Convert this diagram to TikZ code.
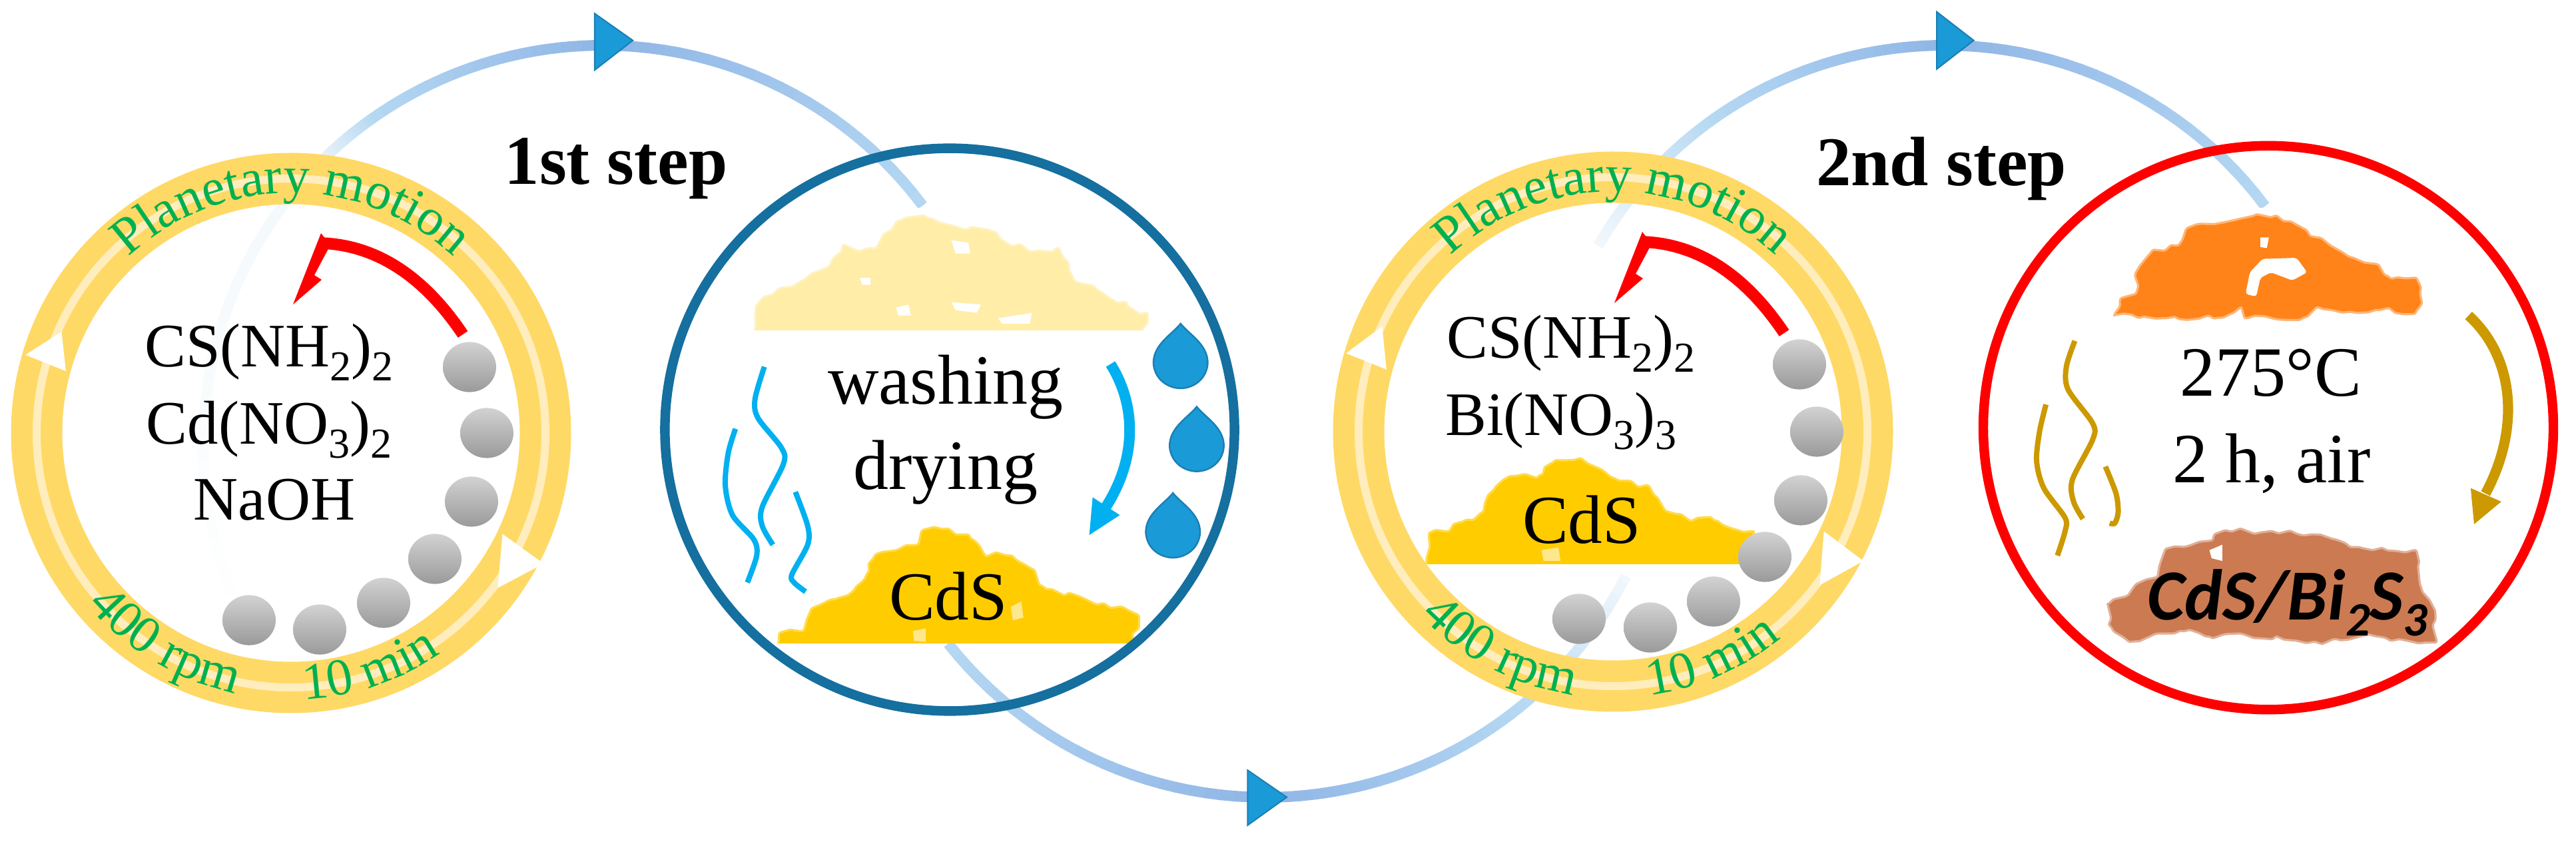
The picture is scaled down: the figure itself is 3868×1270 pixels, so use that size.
\documentclass[tikz,border=0pt]{standalone}
\usepackage{fontspec}
\setmainfont{Liberation Serif}
\newfontfamily\calib{Carlito}
\usetikzlibrary{decorations.text,decorations.pathmorphing}
\pgfmathsetseed{7}
\definecolor{ringy}{HTML}{FFD966}
\definecolor{ringp}{HTML}{FFEDBD}
\definecolor{grn}{HTML}{00B050}
\definecolor{arcmid}{HTML}{8FB5E6}
\definecolor{arcend}{HTML}{B5D8F2}
\definecolor{arcfaint}{HTML}{F2F8FC}
\definecolor{cyanx}{HTML}{00B0F0}
\definecolor{gold}{HTML}{CC9900}
\definecolor{dropf}{HTML}{1A9AD6}
\definecolor{dropd}{HTML}{1A7FB5}
\definecolor{circb}{HTML}{156F9F}
\definecolor{paley}{HTML}{FFEDA8}
\definecolor{cdsy}{HTML}{FFCC00}
\definecolor{orng}{HTML}{FF8319}
\definecolor{brwn}{HTML}{CC7A52}
\newcommand\lowx[2][16]{\raisebox{-0.22em}{\fontsize{#1}{#1}\selectfont #2}}
\newcommand\gradarc[7]{%
  \foreach \i in {1,...,24}{%
    \pgfmathsetmacro\aa{#4+(#5-#4)*(\i-1)/24}%
    \pgfmathsetmacro\ab{#4+(#5-#4)*(\i+0.1)/24}%
    \pgfmathsetmacro\pct{(\i-0.5)/24*100}%
    \colorlet{segc}{#7!\pct!#6}%
    \draw[segc,line width=4pt] ({#1+#3*cos(\aa)},{#2-#3*sin(\aa)}) -- ({#1+#3*cos(\ab)},{#2-#3*sin(\ab)});
  }}
\newcommand\droplet[2]{%
  \begin{scope}[shift={(#1,#2)}]
    \draw[fill=dropf,draw=dropd,line width=0.6pt] (0,-68) .. controls (20,-48) and (64,-30) .. (64,5) .. controls (62,35) and (30,52) .. (0,52) .. controls (-30,52) and (-62,35) .. (-64,5) .. controls (-64,-30) and (-20,-48) .. (0,-68) -- cycle;
  \end{scope}}
\newcommand\ringbase[2]{%
  \draw[ringy,line width=19.25pt] (#1,#2) circle[radius=95.5pt];
  \draw[ringp,line width=3pt] (#1,#2) circle[radius=95.5pt];}
\newcommand\ball[2]{%
  \shade[top color=ballt,middle color=ballm,bottom color=ballb] (#1,#2) ellipse[x radius=10pt,y radius=9.4pt];}
% centre x, centre y, radius px, start angle, end angle, text, size
\newcommand\arctext[7]{%
  \pgfmathsetmacro\rpt{#3*0.25}%
  \path[decorate,decoration={text along path,text align=center,text={|\fontsize{#7}{#7}\selectfont\color{grn}|#6}}]
    ({#1+#3*cos(#4)},{#2-#3*sin(#4)}) arc[start angle=#4,end angle=#5,radius=\rpt pt];}
\definecolor{ballt}{HTML}{D2D2D2}
\definecolor{ballm}{HTML}{F2F2F2}
\definecolor{ballb}{HTML}{9A9A9A}
\tikzset{
  zoomA/.style={x=0.15944pt,y=-0.20243pt},
  zoomB/.style={shift={(950,0)},x=0.15944pt,y=-0.20243pt},
  zoomC/.style={shift={(1900,0)},x=0.15944pt,y=-0.20243pt},
  zoomD/.style={shift={(2868,0)},x=0.15944pt,y=-0.20243pt},
  chem/.style={anchor=base,font=\fontsize{23.2}{23.2}\selectfont,inner sep=0pt},
  big/.style={anchor=base,font=\fontsize{26.5}{26.5}\selectfont,inner sep=0pt},
  stepttl/.style={anchor=base,font=\fontsize{26.2}{26.2}\selectfont\bfseries,inner sep=0pt},
  squig/.style={line width=2pt},
  tri/.style={fill=#1,draw=dropd,line width=0.5pt},
  rock/.style={line width=0.8pt,line join=round,rounded corners=0.6pt,decorate,decoration={random steps,segment length=3.2pt,amplitude=1.3pt}}
}
\begin{document}
\begin{tikzpicture}[x=0.25pt,y=-0.25pt]
\useasboundingbox[fill=white] (0,0) rectangle (3868,1270);

% large process arcs
\gradarc{905}{668}{600}{36.8}{90}{arcend}{arcmid}
\gradarc{905}{668}{600}{90}{125}{arcmid}{arcend}
\gradarc{905}{668}{600}{125}{136}{arcend}{arcfaint}
\gradarc{905}{668}{600}{136}{205}{arcfaint}{white}
\gradarc{1900}{590}{607}{218.3}{270}{arcend}{arcmid}
\gradarc{1900}{590}{607}{270}{309}{arcmid}{arcend}
\gradarc{1900}{590}{607}{309}{333}{arcend}{arcfaint}
\gradarc{2920}{668}{600}{36.7}{90}{arcend}{arcmid}
\gradarc{2920}{668}{600}{90}{125}{arcmid}{arcend}
\gradarc{2920}{668}{600}{125}{150}{arcend}{arcfaint}
\fill[white] (1340,312) rectangle (1440,330);
\fill[white] (3350,312) rectangle (3450,330);

% rings
\ringbase{437}{650}
\ringbase{2422}{648}
\begin{scope}[zoomA]
  \fill[white] (60,658) -- (145,615) -- (155,688) -- cycle;
  \fill[white] (1183,990) -- (1280,1045) -- (1172,1090) -- cycle;
\end{scope}
\begin{scope}[zoomC]
  \fill[white] (190,655) -- (275,605) -- (285,685) -- cycle;
  \fill[white] (1315,985) -- (1408,1040) -- (1305,1085) -- cycle;
\end{scope}
\arctext{437}{650}{360}{132}{48}{Planetary motion}{19.6}
\arctext{437}{650}{400}{218}{260}{400 rpm}{19.6}
\arctext{437}{650}{400}{271}{306}{10 min}{19.6}
\arctext{2422}{648}{360}{132}{48}{Planetary motion}{19.6}
\arctext{2422}{648}{400}{222}{263}{400 rpm}{19.6}
\arctext{2422}{648}{400}{276}{311}{10 min}{19.6}

% powders in first wash circle
\begin{scope}[zoomB]
  \begin{scope}
    \clip (250,380) rectangle (1250,612);
    \draw[rock,fill=paley,draw=paley!70] (283,640) -- (290,570) -- (330,545) -- (400,520) -- (460,495) -- (495,455) -- (530,465) -- (570,460) -- (610,425) -- (640,405) -- (700,405) -- (760,420) -- (830,425) -- (890,455) -- (960,465) -- (1000,460) -- (1040,520) -- (1100,540) -- (1170,570) -- (1210,580) -- (1205,640) -- cycle;
    \fill[white] (750,445) -- (790,450) -- (795,470) -- (760,470) -- cycle;
    \fill[white] (750,560) -- (820,565) -- (810,580) -- (760,575) -- cycle;
    \fill[white] (860,590) -- (940,580) -- (935,600) -- (870,600) -- cycle;
    \fill[white] (620,570) -- (650,565) -- (655,585) -- (625,585) -- cycle;
    \fill[white] (535,515) -- (560,515) -- (560,528) -- (540,528) -- cycle;
  \end{scope}
  \begin{scope}
    \clip (300,960) rectangle (1250,1192);
    \draw[rock,fill=cdsy,draw=cdsy!70] (335,1230) -- (345,1175) -- (400,1170) -- (420,1130) -- (480,1110) -- (530,1085) -- (555,1060) -- (570,1030) -- (620,1020) -- (670,1010) -- (680,985) -- (740,980) -- (800,1000) -- (830,1030) -- (890,1030) -- (930,1050) -- (970,1090) -- (1030,1100) -- (1090,1120) -- (1150,1125) -- (1190,1140) -- (1175,1230) -- cycle;
    \fill[cdsy!45] (890,1125) -- (915,1115) -- (920,1145) -- (895,1150) -- cycle;
    \fill[cdsy!45] (660,1170) -- (690,1165) -- (690,1190) -- (662,1188) -- cycle;
  \end{scope}
  \draw[cyanx,squig] plot[smooth] coordinates {(310,680) (288,740) (295,775) (350,830) (355,860) (305,940) (305,975) (330,1010)};
  \draw[cyanx,squig] plot[smooth] coordinates {(242,795) (225,840) (218,900) (235,955) (285,1000) (292,1030) (270,1080)};
  \draw[cyanx,squig] plot[smooth] coordinates {(383,912) (412,975) (412,1010) (375,1065) (380,1080) (407,1097)};
  \draw[cyanx,line width=4pt] (1125,675) .. controls (1185,750) and (1190,850) .. (1110,945);
  \fill[cyanx] (1075,992) -- (1083,922) -- (1147,955) -- cycle;
  \droplet{1290}{668}
  \droplet{1328}{822}
  \droplet{1272}{982}
\end{scope}
\draw[circb,line width=3.6pt] (1426,645) ellipse[x radius=106.9pt,y radius=105.6pt];

% ring two powder
\begin{scope}[zoomC]
  \begin{scope}
    \clip (340,820) rectangle (1200,1045);
    \draw[rock,fill=cdsy,draw=cdsy!70] (372,1080) -- (385,990) -- (430,985) -- (470,965) -- (510,950) -- (540,905) -- (570,885) -- (650,880) -- (680,855) -- (740,850) -- (790,870) -- (830,890) -- (900,900) -- (940,945) -- (1000,965) -- (1060,965) -- (1120,985) -- (1150,985) -- (1120,1080) -- cycle;
    \fill[cdsy!45] (650,1020) -- (690,1015) -- (695,1040) -- (655,1040) -- cycle;
  \end{scope}
\end{scope}

% balls
\ball{705}{551}\ball{731}{650}\ball{708}{753}\ball{653}{839}\ball{576}{905}\ball{480}{945}\ball{374}{931}
\ball{2702}{547}\ball{2728}{648}\ball{2704}{751}\ball{2650}{836}\ball{2573}{903}\ball{2478}{942}\ball{2371}{929}

% red arrows
\draw[red,line width=4.4pt] (695,502) .. controls (640,420) and (570,368) .. (482,365);
\fill[red] (440,457) -- (482,350) -- (496,368) -- (472,413) -- (483,420) -- cycle;
\draw[red,line width=4.4pt] (2679,500) .. controls (2624,418) and (2554,366) .. (2466,363);
\fill[red] (2424,455) -- (2466,348) -- (2480,366) -- (2456,411) -- (2467,418) -- cycle;

% red circle contents
\begin{scope}[zoomD]
  \draw[rock,fill=orng,draw=orng!60] (480,585) -- (495,555) -- (530,545) -- (530,510) -- (570,465) -- (630,455) -- (650,425) -- (720,415) -- (780,405) -- (860,400) -- (930,425) -- (990,455) -- (1050,480) -- (1100,490) -- (1130,515) -- (1190,515) -- (1205,560) -- (1190,580) -- (1100,575) -- (1060,580) -- (960,570) -- (920,592) -- (790,590) -- (780,570) -- (720,590) -- (600,590) -- cycle;
  \fill[white,rounded corners=1pt] (800,505) -- (830,480) -- (910,478) -- (935,505) -- (900,520) -- (850,505) -- (825,515) -- (815,550) -- (790,545) -- cycle;
  \fill[white] (825,440) -- (845,440) -- (840,460) -- (825,458) -- cycle;
  \draw[rock,fill=brwn,draw=brwn!60] (465,1120) -- (510,1105) -- (530,1085) -- (580,1070) -- (600,1020) -- (680,1005) -- (760,985) -- (850,985) -- (1000,1000) -- (1060,1015) -- (1190,1020) -- (1200,1080) -- (1235,1130) -- (1240,1190) -- (1100,1180) -- (1000,1185) -- (950,1190) -- (850,1185) -- (780,1175) -- (700,1180) -- (640,1170) -- (520,1190) -- (470,1160) -- cycle;
  \fill[white] (705,1020) -- (735,1010) -- (735,1040) -- (710,1035) -- cycle;
  \draw[gold,squig] plot[smooth] coordinates {(388,632) (368,680) (372,722) (430,785) (430,815) (382,890) (385,930) (407,962)};
  \draw[gold,squig] plot[smooth] coordinates {(320,750) (305,800) (298,855) (315,905) (365,960) (365,985) (347,1030)};
  \draw[gold,squig] plot[smooth] coordinates {(460,865) (485,915) (490,950) (482,970) (470,970)};
  \draw[gold,line width=3.8pt] (1315,585) .. controls (1420,660) and (1440,790) .. (1355,915);
  \fill[gold] (1328,972) -- (1320,905) -- (1392,930) -- cycle;
\end{scope}
\draw[red,line width=3.6pt] (3406,642) ellipse[x radius=107pt,y radius=105.8pt];

% triangles on arcs
\begin{scope}[zoomA]
  \draw[tri=dropf] (1400,25) -- (1490,75) -- (1400,130) -- cycle;
\end{scope}
\begin{scope}[zoomB]
  \draw[tri=dropf] (1448,1428) -- (1540,1478) -- (1448,1530) -- cycle;
\end{scope}
\begin{scope}[zoomD]
  \draw[tri=dropf] (63,22) -- (150,75) -- (63,128) -- cycle;
\end{scope}

% texts
\node[stepttl] (s1) at (925,277) {1st step};
\node[stepttl] (s2) at (2915,279) {2nd step};
\node[chem] (a1) at (404,551) {CS(NH\lowx{2})\lowx{2}};
\node[chem] (a2) at (404,667) {Cd(NO\lowx{3})\lowx{2}};
\node[chem] (a3) at (412,781) {NaOH};
\node[big] (w1) at (1420,607) {washing};
\node[big] (w2) at (1420,735) {drying};
\node[big,font=\fontsize{25.8}{25.8}\selectfont] (c1) at (1424,931) {CdS};
\node[chem] (b1) at (2359,538) {CS(NH\lowx{2})\lowx{2}};
\node[chem] (b2) at (2344,654) {Bi(NO\lowx{3})\lowx{3}};
\node[big,font=\fontsize{25.8}{25.8}\selectfont] (c2) at (2375,816) {CdS};
\node[big] (t1) at (3410,595) {275°C};
\node[big] (t2) at (3411,725) {2 h, air};
\node[anchor=base,inner sep=0pt,font=\calib\bfseries\itshape\fontsize{27}{27}\selectfont] (p1) at (3435,931) {CdS/Bi\lowx[18]{2}S\lowx[18]{3}};
\end{tikzpicture}
\end{document}
